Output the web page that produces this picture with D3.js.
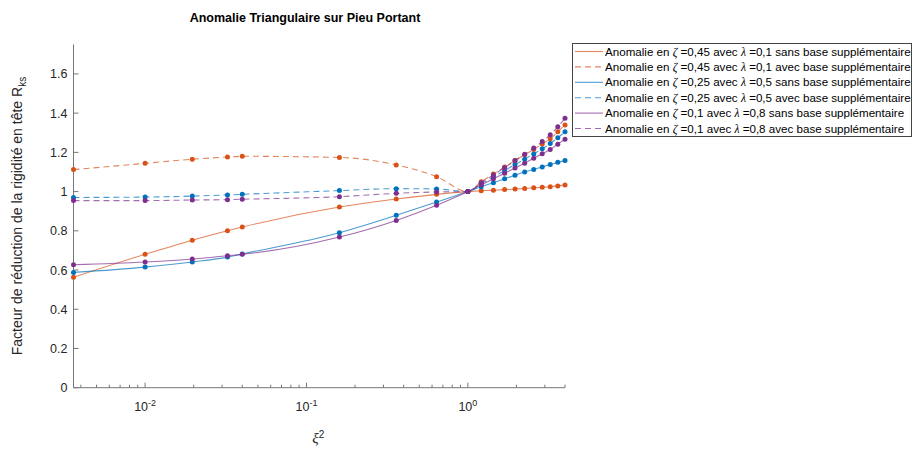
<!DOCTYPE html>
<html><head><meta charset="utf-8">
<script src="https://cdn.jsdelivr.net/npm/d3@7"></script>
<style>body{margin:0;background:#fff}text{font-family:"Liberation Sans",Arial,sans-serif}</style>
</head><body>
<svg id="c" width="912" height="454"></svg>
<script>
// ---- data ----
const xValues = [0.0036,0.01,0.0196,0.0324,0.04,0.16,0.36,0.64,1,1.21,1.44,1.69,1.96,2.25,2.56,2.89,3.24,3.61,4];
const zeta045Sans = [0.563,0.680,0.752,0.800,0.819,0.921,0.962,0.986,1.000,1.004,1.007,1.010,1.013,1.016,1.019,1.022,1.025,1.029,1.033];
const zeta045Avec = [1.112,1.144,1.165,1.176,1.180,1.174,1.136,1.076,1.000,1.050,1.090,1.125,1.158,1.188,1.215,1.243,1.270,1.305,1.340];
const zeta025Sans = [0.588,0.615,0.641,0.666,0.682,0.790,0.879,0.947,1.000,1.025,1.045,1.065,1.083,1.100,1.113,1.126,1.138,1.149,1.158];
const zeta025Avec = [0.970,0.972,0.977,0.983,0.986,1.005,1.015,1.013,1.000,1.040,1.075,1.107,1.138,1.165,1.192,1.218,1.245,1.275,1.305];
const zeta01Sans  = [0.627,0.641,0.656,0.673,0.680,0.768,0.853,0.930,1.000,1.035,1.065,1.093,1.120,1.145,1.170,1.193,1.215,1.242,1.267];
const zeta01Avec  = [0.954,0.954,0.957,0.959,0.961,0.974,0.991,0.998,1.000,1.045,1.085,1.122,1.158,1.190,1.222,1.255,1.290,1.330,1.374];
const legendLabels = [
  ["0,45","0,1","sans"],["0,45","0,1","avec"],
  ["0,25","0,5","sans"],["0,25","0,5","avec"],
  ["0,1","0,8","sans"],["0,1","0,8","avec"]
];
const yTicks = [0,0.2,0.4,0.6,0.8,1,1.2,1.4,1.6];
const yTickLabels = ["0","0.2","0.4","0.6","0.8","1","1.2","1.4","1.6"];
const xMajorTicks = [0.01,0.1,1];
const xMajorExp = ["-2","-1","0"];

const series = [
  {v:zeta045Sans,c:"#D95319",dash:null},
  {v:zeta045Avec,c:"#D95319",dash:"6,4"},
  {v:zeta025Sans,c:"#0072BD",dash:null},
  {v:zeta025Avec,c:"#0072BD",dash:"6,4"},
  {v:zeta01Sans,c:"#7E2F8E",dash:null},
  {v:zeta01Avec,c:"#7E2F8E",dash:"6,4"}
];

const svg = d3.select("#c");
const L=73.5, R=565, T=44.5, B=387.7;
const x = d3.scaleLog().domain([0.0036,4]).range([L,R]);
const y = d3.scaleLinear().domain([0,1.75]).range([B,T]);
const axisCol = "#262626";

// title
svg.append("text").attr("x",305).attr("y",22).attr("text-anchor","middle")
  .attr("font-size","12.5px").attr("font-weight","bold").attr("fill","#000")
  .text("Anomalie Triangulaire sur Pieu Portant");

// axes lines
svg.append("line").attr("x1",L).attr("x2",L).attr("y1",T).attr("y2",B).attr("stroke","#777").attr("stroke-width",1);
svg.append("line").attr("x1",L).attr("x2",R).attr("y1",B).attr("y2",B).attr("stroke","#777").attr("stroke-width",1);

// y ticks (inward)
yTicks.forEach((t,i)=>{
  svg.append("line").attr("x1",L).attr("x2",L+5).attr("y1",y(t)).attr("y2",y(t)).attr("stroke","#777");
  svg.append("text").attr("x",L-6).attr("y",y(t)+4.5).attr("text-anchor","end")
    .attr("font-size","12.5px").attr("fill",axisCol).text(yTickLabels[i]);
});

// x minor ticks
const minor=[];
[0.001,0.01,0.1,1].forEach(d=>{for(let k=2;k<=9;k++){const v=d*k; if(v>=0.0036&&v<=4) minor.push(v);}});
minor.forEach(v=>{
  svg.append("line").attr("x1",x(v)).attr("x2",x(v)).attr("y1",B).attr("y2",B-3).attr("stroke","#777");
});
xMajorTicks.forEach((v,i)=>{
  svg.append("line").attr("x1",x(v)).attr("x2",x(v)).attr("y1",B).attr("y2",B-5).attr("stroke","#777");
  const t=svg.append("text").attr("x",x(v)).attr("y",411).attr("text-anchor","middle")
    .attr("font-size","12.5px").attr("fill",axisCol);
  t.append("tspan").text("10");
  t.append("tspan").attr("dy",-5).attr("font-size","9px").text(xMajorExp[i]);
});

// axis labels
const xl=svg.append("text").attr("x",(L+R)/2-1).attr("y",443).attr("text-anchor","middle")
  .attr("font-size","15px").attr("fill",axisCol);
xl.append("tspan").attr("font-family","Liberation Serif").attr("font-style","italic").text("ξ");
xl.append("tspan").attr("dy",-5).attr("font-size","10px").text("2");

const yl=svg.append("text").attr("transform",`translate(22,${(T+B)/2}) rotate(-90)`)
  .attr("text-anchor","middle").attr("font-size","14px").attr("fill",axisCol);
yl.append("tspan").text("Facteur de réduction de la rigidité en tête R");
yl.append("tspan").attr("dy",4).attr("font-size","10px").text("ks");

// data
const line = d3.line().x((d,i)=>x(xValues[i])).y(d=>y(d)).curve(d3.curveMonotoneX);
const g = svg.append("g");
series.forEach(s=>{
  g.append("path").attr("d",line(s.v)).attr("fill","none").attr("stroke",s.c)
    .attr("stroke-opacity",0.7).attr("stroke-width",1.1)
    .attr("stroke-dasharray",s.dash);
  g.selectAll(null).data(s.v).enter().append("circle")
    .attr("cx",(d,i)=>x(xValues[i])).attr("cy",d=>y(d)).attr("r",2.5).attr("fill",s.c);
});

// legend
const lx=572, ly=43, lw=339, lh=93;
svg.append("rect").attr("x",lx+0.5).attr("y",ly+0.5).attr("width",lw).attr("height",lh)
  .attr("fill","#fff").attr("stroke","#444").attr("stroke-width",1);
legendLabels.forEach((lab,i)=>{
  const yy = ly+8.5+i*15.4;
  const s=series[i];
  svg.append("line").attr("x1",lx+3).attr("x2",lx+31).attr("y1",yy).attr("y2",yy)
    .attr("stroke",s.c).attr("stroke-opacity",0.7).attr("stroke-width",1.1).attr("stroke-dasharray",s.dash);
  const t=svg.append("text").attr("x",lx+33).attr("y",yy+4).attr("font-size","11.6px").attr("fill","#000");
  t.append("tspan").text("Anomalie en ");
  t.append("tspan").attr("font-family","Liberation Serif").attr("font-style","italic").text("ζ");
  t.append("tspan").text(" =" + lab[0] + " avec ");
  t.append("tspan").attr("font-family","Liberation Serif").attr("font-style","italic").text("λ");
  t.append("tspan").text(" =" + lab[1] + " " + lab[2] + " base supplémentaire");
});
</script>
</body></html>
